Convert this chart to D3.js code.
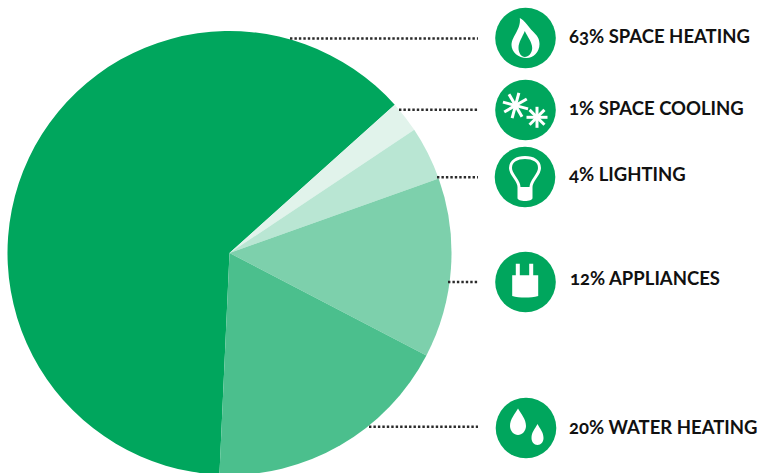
<!DOCTYPE html>
<html>
<head>
<meta charset="utf-8">
<script src="https://cdnjs.cloudflare.com/ajax/libs/d3/7.8.5/d3.min.js"></script>
<style>
  html, body { margin: 0; padding: 0; background: #fff; }
  svg { display: block; }
  text {
    font-family: Lato, "Open Sans", sans-serif;
    font-weight: 700;
    font-size: 18.5px;
    fill: #111;
    font-variant-numeric: oldstyle-nums;
  }
</style>
</head>
<body>
<div id="chart"></div>
<script>
// drawn order is clockwise from the bottom of the pie
const categories = ['Space heating', 'Space cooling', 'Lighting', 'Appliances', 'Water heating']
const labels = ['63% SPACE HEATING', '1% SPACE COOLING', '4% LIGHTING', '12% APPLIANCES', '20% WATER HEATING']
// slice sizes as they are drawn in the picture, not the printed percentages
const sliceShares = [62.64, 2.28, 3.92, 13.08, 18.08]
const colors = ['#00a65d', '#e1f3eb', '#b9e6d3', '#7dd0ac', '#4bbf8d']

const width = 758
const height = 473
const cx = 229.5
const cy = 253
const radius = 222
const startDeg = 182.6

const rowY = [38, 110, 177, 282, 428]
const leaderY = [38.5, 109.7, 177.3, 282, 426.7]
const leaderStart = [290, 399, 437, 448, 369]
const iconX = [525.5, 525.5, 525, 525.5, 526]
const iconR = 30.3
const textX = [569, 569, 569, 570, 569]
const textY = [43, 115, 181, 285, 434]

const icons = [
  // flame
  g => g.append('path').attr('fill-rule', 'evenodd')
    .attr('d', 'M-5.7-20C0-17 3-11 7-7C11-3 14 0 14 6C14 14 8 20 1 20C-7 20 -14 14 -14 7C-14 2 -11-2 -9-6C-7-10 -5-14 -5.7-20ZM-0.7-7C-3-1 -7 4 -7 10C-7 15 -4 19 -0.7 19C3 19 6.7 15 6.7 10C6.7 4 2-1 -0.7-7Z'),
  // two snowflakes
  g => {
    [[-10, -4.5, 13, 15], [11.5, 7.3, 10.5, 0]].forEach(f => {
      d3.range(4).forEach(i => {
        const a = (i * 45 + f[3]) * Math.PI / 180
        g.append('line')
          .attr('x1', f[0] - f[2] * Math.cos(a)).attr('y1', f[1] - f[2] * Math.sin(a))
          .attr('x2', f[0] + f[2] * Math.cos(a)).attr('y2', f[1] + f[2] * Math.sin(a))
          .attr('stroke', '#fff').attr('stroke-width', 3)
      })
    })
  },
  // light bulb
  g => {
    g.append('path').attr('fill', 'none').attr('stroke', '#fff').attr('stroke-width', 3)
      .attr('d', 'M-6 10C-6 3 -14.5-2 -14.5-9C-14.5-16 -8-19.5 0-19.5C8-19.5 14.5-16 14.5-9C14.5-2 6 3 6 10')
    g.append('path').attr('d', 'M-7.5 10H7.5V21C7.5 23 4 24 0 24C-4 24 -7.5 23 -7.5 21Z')
  },
  // plug
  g => g.append('path')
    .attr('d', 'M-9.7-18.3H-5.7V-6.7H3.7V-18.3H7.7V-6.7H12.7V14C5 16 -6 16 -13.3 14V-6.7H-9.7Z'),
  // two drops
  g => {
    g.append('path').attr('d', 'M-8-19.5C-5-14 0-9 0-2C0 3 -4 7 -8 7C-12 7 -16 3 -16-2C-16-9 -11-14 -8-19.5Z')
    g.append('path').attr('d', 'M11.5-4C14 1 17.5 4 17.5 10C17.5 14 15 17 11.5 17C8 17 5.5 14 5.5 10C5.5 4 9 1 11.5-4Z')
  }
]

const svg = d3.select('#chart')
  .append('svg')
  .attr('width', width)
  .attr('height', height)

const pie = d3.pie()
  .sort(null)
  .startAngle(startDeg * Math.PI / 180)
  .endAngle((startDeg + 360) * Math.PI / 180)

const arc = d3.arc().innerRadius(0).outerRadius(radius)

svg.append('g')
  .attr('transform', 'translate(' + cx + ',' + cy + ')')
  .selectAll('path')
  .data(pie(sliceShares))
  .enter()
  .append('path')
  .attr('d', arc)
  .attr('fill', (d, i) => colors[i])

const rows = svg.selectAll('.row')
  .data(categories)
  .enter()
  .append('g')
  .attr('class', 'row')

rows.append('line')
  .attr('x1', (d, i) => leaderStart[i])
  .attr('x2', 478)
  .attr('y1', (d, i) => leaderY[i])
  .attr('y2', (d, i) => leaderY[i])
  .attr('stroke', '#2b2b2b')
  .attr('stroke-width', 2.4)
  .attr('stroke-dasharray', '2.4 2.05')

rows.append('circle')
  .attr('cx', (d, i) => iconX[i])
  .attr('cy', (d, i) => rowY[i])
  .attr('r', iconR)
  .attr('fill', colors[0])

rows.append('g')
  .attr('transform', (d, i) => 'translate(' + iconX[i] + ',' + rowY[i] + ')')
  .attr('fill', '#fff')
  .each(function(d, i) { icons[i](d3.select(this)) })

rows.append('text')
  .attr('x', (d, i) => textX[i])
  .attr('y', (d, i) => textY[i])
  .text((d, i) => labels[i])
</script>
</body>
</html>
